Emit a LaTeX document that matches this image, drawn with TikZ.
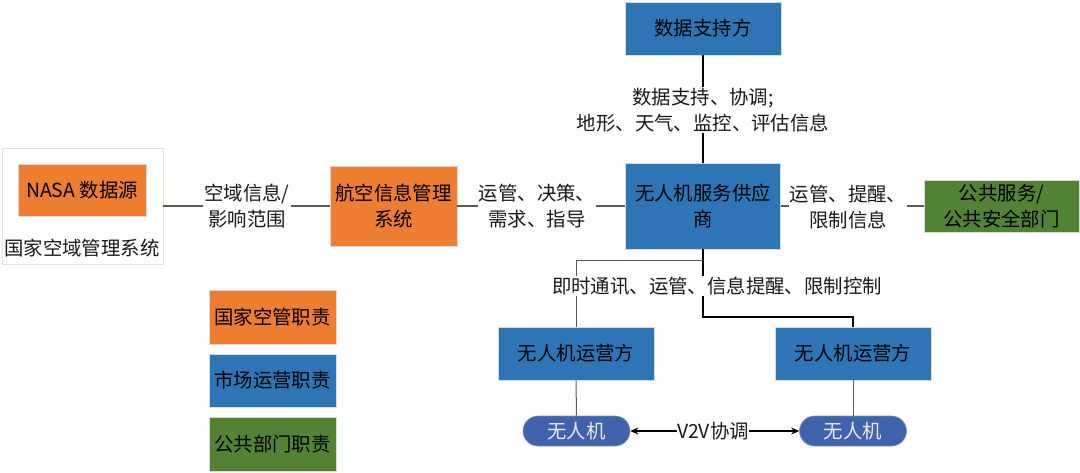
\documentclass[tikz,border=0pt]{standalone}
\usepackage{fontspec}
\setmainfont{Noto Sans CJK SC}
\usetikzlibrary{arrows.meta}
\definecolor{cOrange}{HTML}{ED7D31}
\definecolor{cBlue}{HTML}{2E75B6}
\definecolor{cGreen}{HTML}{548235}
\definecolor{cDrone}{HTML}{4063AE}
\definecolor{cLine}{HTML}{595959}
\tikzset{
  box/.style={rectangle, draw=black!15, line width=0.6pt, align=center, text=black, inner sep=0pt, font=\fontsize{19.4}{26.5}\selectfont},
  obox/.style={box, fill=cOrange},
  bbox/.style={box, fill=cBlue},
  gbox/.style={box, fill=cGreen},
  pill/.style={rectangle, rounded corners=15pt, fill=cDrone, draw=cDrone!70!white, line width=0.6pt, text=white!92!black, minimum width=107pt, minimum height=30pt, inner sep=0pt, font=\fontsize{19.4}{26.5}\selectfont},
  lab/.style={fill=white, align=center, inner sep=1pt, text=black!90, font=\fontsize{19.4}{26.5}\selectfont},
  gline/.style={draw=cLine, line width=1.5pt},
  kline/.style={draw=black, line width=1.5pt},
  tline/.style={draw=cLine, line width=1pt},
}
\begin{document}
\begin{tikzpicture}[x=1pt, y=-1pt]
\useasboundingbox (0,0) rectangle (1080,472);
% nodes
\node[box, draw=black!12, minimum width=161pt, minimum height=116pt] (sys) at (82.5,206) {};
\node[obox, minimum width=128pt, minimum height=52pt] (nasa) at (82,190) {NASA 数据源};
\node[lab, fill=none] (syslab) at (82,248) {国家空域管理系统};
\node[obox, minimum width=127pt, minimum height=80pt] (aim) at (393.5,206) {航空信息管理\\系统};
\node[bbox, minimum width=156pt, minimum height=53pt] (ds) at (703,28.5) {数据支持方};
\node[bbox, minimum width=155pt, minimum height=86pt] (svc) at (703,206) {无人机服务供应\\商};
\node[gbox, minimum width=155pt, minimum height=52pt] (pub) at (1001.5,206) {公共服务/\\公共安全部门};
\node[bbox, minimum width=156pt, minimum height=53pt] (op1) at (576,353.5) {无人机运营方};
\node[bbox, minimum width=156pt, minimum height=53pt] (op2) at (853,353.5) {无人机运营方};
\node[pill] (d1) at (576.5,431) {无人机};
\node[pill] (d2) at (853,431) {无人机};
% legend
\node[obox, minimum width=127pt, minimum height=54pt] (lg1) at (272.5,317) {国家空管职责};
\node[bbox, minimum width=127pt, minimum height=53pt] (lg2) at (272.5,380.5) {市场运营职责};
\node[gbox, minimum width=127pt, minimum height=54pt] (lg3) at (272.5,444) {公共部门职责};
% connectors
\coordinate (j1) at (703,260);
\coordinate (j2) at (703,317);
\draw[gline] (sys.east) -- (aim.west);
\draw[gline] (aim.east) -- (svc.west);
\draw[gline] (svc.east) -- (pub.west);
\draw[kline] (ds.south) -- (svc.north);
\draw[kline] (svc.south) -- (j2) -| (op2.north);
\draw[tline] (j1) -| (op1.north);
\draw[tline] (op1.south) -- (d1.north);
\draw[tline] (op2.south) -- (d2.north);
\draw[kline, line width=1.3pt, {Stealth[length=8pt,width=7pt]}-{Stealth[length=8pt,width=7pt]}] (d1.east) -- (d2.west);
% labels
\node[lab] (l1) at (247,206) {空域信息/\\影响范围};
\node[lab] (l2) at (703,110) {数据支持、协调;\\地形、天气、监控、评估信息};
\node[lab] (l3) at (537,206) {运管、决策、\\需求、指导};
\node[lab] (l4) at (848,207) {运管、提醒、\\限制信息};
\node[lab] (l5) at (717,286) {即时通讯、运管、信息提醒、限制控制};
\node[lab, inner sep=0.5pt] (l6) at (713,431) {V2V协调};
\end{tikzpicture}
\end{document}
